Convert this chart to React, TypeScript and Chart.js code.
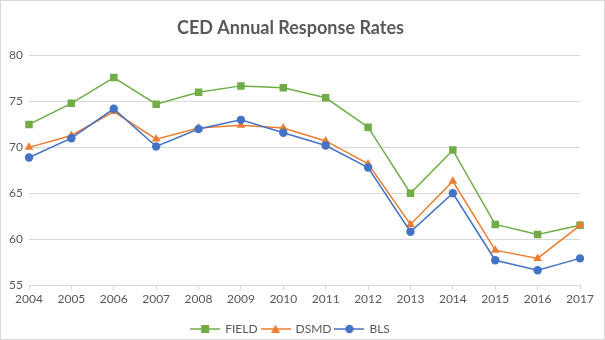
import React, { useEffect, useRef } from "react";
import { Chart, registerables } from "chart.js";

Chart.register(...registerables);

const years = ["2004","2005","2006","2007","2008","2009","2010","2011","2012","2013","2014","2015","2016","2017"];
const field = [72.5, 74.8, 77.6, 74.7, 76.0, 76.7, 76.5, 75.4, 72.2, 65.0, 69.7, 61.6, 60.5, 61.5];
const dsmd = [70.0, 71.3, 73.9, 70.9, 72.1, 72.4, 72.1, 70.7, 68.2, 61.6, 66.3, 58.8, 57.9, 61.5];
const bls = [68.9, 71.0, 74.2, 70.1, 72.0, 73.0, 71.6, 70.2, 67.8, 60.8, 65.0, 57.7, 56.6, 57.9];

const FONT = "Lato, 'Open Sans', sans-serif";

function legendIcon(color: string, style: string): HTMLCanvasElement {
  const c = document.createElement("canvas");
  c.width = 30;
  c.height = 12;
  const ctx = c.getContext("2d")!;
  ctx.strokeStyle = color;
  ctx.lineWidth = 1.5;
  ctx.beginPath();
  ctx.moveTo(0, 6);
  ctx.lineTo(30, 6);
  ctx.stroke();
  ctx.fillStyle = color;
  ctx.beginPath();
  if (style === "rect") {
    ctx.rect(11, 2, 8, 8);
  } else if (style === "triangle") {
    ctx.moveTo(15, 1.5);
    ctx.lineTo(19.5, 10);
    ctx.lineTo(10.5, 10);
    ctx.closePath();
  } else {
    ctx.arc(15, 6, 4.2, 0, Math.PI * 2);
  }
  ctx.fill();
  return c;
}

export default function App() {
  const ref = useRef<HTMLCanvasElement>(null);
  useEffect(() => {
    const series = [
      { label: "FIELD", data: field, color: "#70AD47", style: "rect", radius: 5.3, order: 2 },
      { label: "DSMD", data: dsmd, color: "#ED7D31", style: "triangle", radius: 5, order: 1 },
      { label: "BLS", data: bls, color: "#4472C4", style: "circle", radius: 4.2, order: 0 },
    ];
    const icons = series.map((s) => legendIcon(s.color, s.style));
    const chart = new Chart(ref.current!, {
      type: "line",
      data: {
        labels: years,
        datasets: series.map((s) => ({
          label: s.label,
          data: s.data,
          borderColor: s.color,
          backgroundColor: s.color,
          borderWidth: 1.5,
          pointStyle: s.style as any,
          pointRadius: s.radius,
          pointBorderWidth: 0,
          pointBackgroundColor: s.color,
          order: s.order,
          tension: 0,
        })),
      },
      options: {
        animation: false,
        responsive: false,
        maintainAspectRatio: false,
        layout: { padding: { left: 0, right: 24, top: 10, bottom: -6 } },
        plugins: {
          title: {
            display: true,
            text: "CED Annual Response Rates",
            color: "#595959",
            font: { family: FONT, size: 18, weight: "bold" },
            padding: { top: 6, bottom: 17 },
          },
          legend: {
            position: "bottom",
            labels: {
              color: "#595959",
              font: { family: FONT, size: 12 },
              usePointStyle: true,
              pointStyleWidth: 28,
              boxHeight: 12,
              padding: 4,
              generateLabels: (ch: any) =>
                series.map((s, i) => ({
                  text: s.label,
                  fillStyle: s.color,
                  strokeStyle: s.color,
                  lineWidth: 0,
                  pointStyle: icons[i],
                  datasetIndex: i,
                  hidden: !ch.isDatasetVisible(i),
                  fontColor: "#595959",
                })),
            },
          },
          tooltip: { enabled: false },
        },
        scales: {
          x: {
            offset: false,
            grid: { display: true, drawOnChartArea: false, drawTicks: true, tickLength: 5, color: "#d9d9d9" },
            border: { display: true, color: "#d9d9d9" },
            ticks: { color: "#595959", font: { family: FONT, size: 12 }, maxRotation: 0, autoSkip: false, padding: 2 },
            afterFit: (scale: any) => {
              scale.height = 34;
            },
          },
          y: {
            min: 55,
            max: 80,
            grid: { color: "#d9d9d9", drawTicks: false },
            border: { display: false },
            ticks: { stepSize: 5, color: "#595959", font: { family: FONT, size: 12 }, padding: 6 },
            afterFit: (scale: any) => {
              scale.width = 28;
            },
          },
        },
      },
    });
    return () => chart.destroy();
  }, []);
  return (
    <div style={{ position: "absolute", left: 0, top: 0, width: 605, height: 340, boxSizing: "border-box", border: "1px solid #d9d9d9", background: "#fff" }}>
      <canvas ref={ref} width={603} height={338} style={{ display: "block" }} />
    </div>
  );
}
